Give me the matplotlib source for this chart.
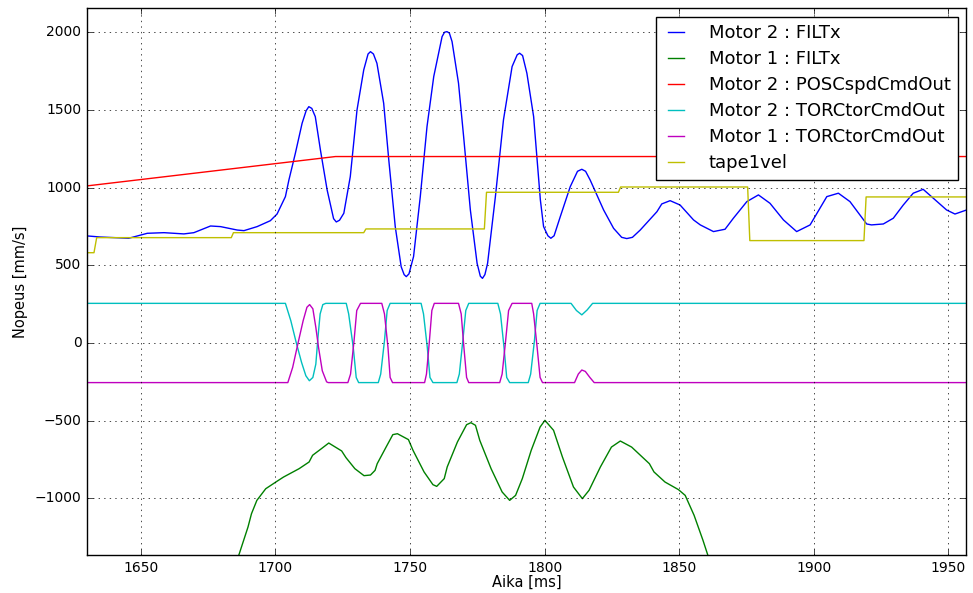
import numpy as np
import matplotlib
matplotlib.use('Agg')
import matplotlib.pyplot as plt

plt.style.use('classic')

# Motor 2 : FILTx
t_m2filt = [1630.1, 1635.0, 1645.5, 1652.4, 1658.6, 1666.0, 1669.7, 1675.9, 1679.6, 1685.8,
            1688.3, 1693.2, 1698.1, 1700.6, 1703.7, 1705.0, 1707.4, 1709.9, 1711.4, 1712.4, 1713.5, 1714.8,
            1716.7, 1719.2, 1721.6, 1722.6, 1723.8, 1725.4, 1727.8, 1730.3, 1732.8, 1734.4, 1735.3, 1736.4, 1737.7, 1740.2,
            1742.1, 1744.5, 1746.7, 1747.8, 1748.6, 1749.6, 1751.3, 1753.8, 1756.3, 1758.8, 1761.9, 1762.8, 1763.7,
            1764.6, 1765.6, 1768.0, 1769.9, 1772.4, 1774.9, 1776.1, 1776.9, 1777.8, 1778.8, 1781.7, 1784.7, 1787.9,
            1789.8, 1790.7, 1791.8, 1793.4, 1795.9, 1798.4, 1799.6, 1801.2, 1802.3, 1803.5, 1805.8, 1809.5, 1812.2, 1813.8, 1815.2, 1816.9,
            1821.9, 1825.6, 1828.6, 1830.5, 1832.6, 1835.5, 1841.7, 1843.5, 1846.6, 1850.3, 1855.3, 1857.8,
            1862.7, 1867.0, 1870.1, 1875.1, 1879.4, 1883.7, 1888.7, 1893.6, 1898.6, 1904.8,
            1909.1, 1913.4, 1917.1, 1919.6, 1921.4, 1925.8, 1929.5, 1933.2, 1936.9, 1940.6,
            1944.4, 1949.3, 1952.4, 1956.7]
v_m2filt = [689, 682, 674, 706, 710, 702, 710, 753, 749, 727,
            723, 749, 787, 830, 942, 1049, 1221, 1414, 1495, 1521, 1510, 1457,
            1243, 985, 800, 779, 790, 835, 1071, 1500, 1758, 1860, 1875, 1860, 1800, 1543,
            1178, 749, 491, 440, 427, 445, 556, 942, 1393, 1715, 1972, 2000, 2004,
            1995, 1940, 1672, 1328, 856, 513, 430, 416, 440, 513, 942, 1436, 1779,
            1855, 1865, 1850, 1736, 1457, 921, 749, 690, 674, 690, 813, 1006, 1105, 1118, 1105, 1049,
            856, 738, 680, 672, 680, 727, 845, 895, 916, 888, 792, 760,
            717, 732, 803, 910, 953, 899, 792, 717, 760, 942,
            964, 910, 824, 766, 760, 766, 803, 888, 964, 989,
            931, 856, 830, 856]

# Motor 1 : FILTx
t_m1filt = [1683.5, 1686.5, 1689.8, 1691.1, 1693.1, 1696.4, 1700.5, 1703.0, 1708.8, 1712.5,
            1713.8, 1717.1, 1719.8, 1724.6, 1726.2, 1729.5, 1732.9, 1735.3, 1737.0, 1737.8,
            1741.1, 1743.6, 1745.3, 1749.4, 1751.1, 1755.2, 1758.5, 1759.9, 1762.7, 1763.8,
            1767.6, 1771.0, 1772.6, 1774.3, 1775.9, 1780.1, 1784.2, 1787.0, 1789.2, 1791.7,
            1795.0, 1798.3, 1800.1, 1803.3, 1806.6, 1810.7, 1814.0, 1816.5, 1820.7, 1824.8,
            1828.1, 1832.3, 1838.9, 1840.6, 1844.7, 1849.7, 1852.2, 1855.5, 1858.8, 1860.5,
            1863.0]
v_m1filt = [-1500, -1360, -1185, -1099, -1013, -938, -891, -863, -809, -766,
            -723, -680, -644, -695, -738, -809, -854, -850, -820, -777,
            -670, -590, -584, -622, -691, -830, -912, -923, -873, -798,
            -637, -526, -513, -530, -627, -809, -959, -1013, -981, -873,
            -691, -541, -498, -562, -734, -927, -1002, -948, -798, -670,
            -631, -670, -777, -830, -895, -944, -981, -1109, -1270, -1360,
            -1500]

# Motor 2 : POSCspdCmdOut
t_posc = [1630.0, 1722.3, 1957.0]
v_posc = [1011, 1200, 1200]

# Motor 2 : TORCtorCmdOut
t_m2tor = [1630.0, 1703.7, 1705.7, 1707.7, 1709.7, 1711.3, 1712.6, 1713.9, 1715.0, 1715.8,
           1716.6, 1717.6, 1718.7, 1726.3, 1727.2, 1728.9, 1730.0, 1730.9, 1738.2, 1739.1,
           1740.5, 1741.5, 1742.6, 1754.1, 1755.0, 1756.4, 1757.4, 1758.5, 1767.4, 1768.3,
           1769.6, 1770.7, 1771.8, 1782.6, 1783.6, 1784.9, 1785.9, 1787.0, 1793.9, 1794.8,
           1796.2, 1797.2, 1798.3, 1809.8, 1811.8, 1813.8, 1815.8, 1817.8, 1957.0]
v_m2tor = [255, 255, 144, 4, -125, -211, -243, -222, -136, 37,
           187, 247, 255, 255, 187, -28, -222, -255, -255, -200,
           15, 209, 255, 255, 187, -28, -222, -255, -255, -200,
           15, 209, 255, 255, 187, -28, -222, -255, -255, -200,
           15, 209, 255, 255, 209, 181, 213, 255, 255]

# Motor 1 : TORCtorCmdOut
t_m1tor = [1630.0, 1704.6, 1706.4, 1708.4, 1710.3, 1711.7, 1712.7, 1713.9, 1715.0, 1716.0,
           1717.4, 1719.0, 1719.6, 1726.9, 1727.9, 1729.2, 1730.2, 1731.6, 1739.5, 1740.5,
           1741.8, 1742.6, 1743.5, 1755.4, 1756.1, 1757.2, 1758.1, 1759.0, 1768.0, 1769.0,
           1770.0, 1771.0, 1771.8, 1783.3, 1784.2, 1785.5, 1786.6, 1787.9, 1795.2, 1795.9,
           1797.2, 1798.3, 1799.2, 1811.1, 1812.5, 1813.8, 1815.1, 1816.8, 1818.4, 1957.0]
v_m1tor = [-255, -255, -157, 0, 144, 230, 247, 220, 101, -28,
           -179, -250, -255, -255, -200, 15, 209, 255, 255, 187,
           -28, -222, -255, -255, -200, 15, 209, 255, 255, 187,
           -28, -222, -255, -255, -200, 15, 209, 255, 255, 187,
           -28, -222, -255, -255, -200, -174, -183, -222, -255, -255]

# tape1vel
t_tape = [1630.0, 1632.6, 1633.6, 1683.6, 1684.4, 1732.8, 1733.6, 1777.6, 1778.4,
          1827.4, 1828.2, 1875.4, 1876.2, 1918.6, 1919.4, 1957.0]
v_tape = [581, 581, 678, 678, 710, 710, 734, 734, 970,
          970, 1004, 1004, 659, 659, 940, 940]

fig = plt.figure(figsize=(9.73, 5.93), dpi=100, facecolor='white')
ax = fig.add_axes([0.0894, 0.064, 0.9034, 0.9217])
ax.plot(t_m2filt, v_m2filt, 'b', label='Motor 2 : FILTx')
ax.plot(t_m1filt, v_m1filt, 'g', label='Motor 1 : FILTx')
ax.plot(t_posc, v_posc, 'r', label='Motor 2 : POSCspdCmdOut')
ax.plot(t_m2tor, v_m2tor, 'c', label='Motor 2 : TORCtorCmdOut')
ax.plot(t_m1tor, v_m1tor, 'm', label='Motor 1 : TORCtorCmdOut')
ax.plot(t_tape, v_tape, 'y', label='tape1vel')
ax.set_xlim(1630, 1956.5)
ax.set_ylim(-1365, 2153)
ax.set_xticks(np.arange(1650, 1951, 50))
ax.set_yticks(np.arange(-1000, 2001, 500))
ax.tick_params(labelsize=10)
ax.grid(True)
ax.set_xlabel('Aika [ms]', fontsize=10.5, labelpad=0)
ax.set_ylabel('Nopeus [mm/s]', fontsize=10.5, labelpad=5)
ax.legend(loc='upper right', fontsize=13, handlelength=1.5, handletextpad=1.05,
          labelspacing=0.45, borderaxespad=0.45)
fig.savefig('out.png', dpi=100, facecolor='white')
